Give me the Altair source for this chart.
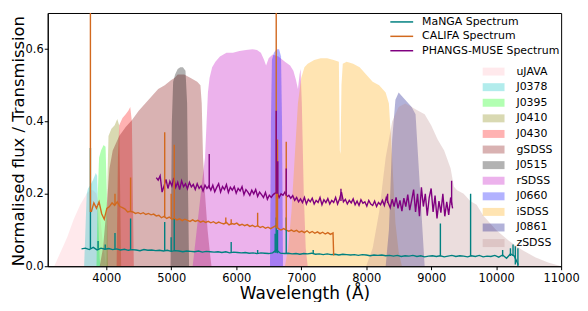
import altair as alt
import pandas as pd

FONT = "DejaVu Sans"

# ---------------- filter transmission curves ----------------
filter_names = ["uJAVA", "J0378", "J0395", "J0410", "J0430", "gSDSS",
                "J0515", "rSDSS", "J0660", "iSDSS", "J0861", "zSDSS"]
filter_colors = ["#ffb6c1", "#00bfbf", "#00ff00", "#808000", "#ff0000", "#800000",
                 "#000000", "#bf00bf", "#0000ff", "#ffa500", "#000080", "#bc8f8f"]

ujava_w = [3200, 3250, 3300, 3400, 3500, 3550, 3600, 3650, 3700, 3750, 3800, 3850, 3900, 3950, 4000]
ujava_t = [0.0, 0.02, 0.04, 0.08, 0.13, 0.15, 0.17, 0.185, 0.2, 0.21, 0.21, 0.2, 0.15, 0.06, 0.0]

j0378_w = [3660, 3680, 3700, 3720, 3760, 3800, 3840, 3860, 3880, 3900, 3910]
j0378_t = [0.0, 0.1, 0.2, 0.215, 0.225, 0.24, 0.258, 0.25, 0.12, 0.02, 0.0]

j0395_w = [3850, 3870, 3890, 3920, 3960, 3990, 4010, 4025]
j0395_t = [0.0, 0.2, 0.3, 0.32, 0.335, 0.33, 0.2, 0.0]

j0410_w = [4005, 4020, 4035, 4080, 4130, 4170, 4200, 4215, 4230]
j0410_t = [0.0, 0.25, 0.36, 0.38, 0.39, 0.407, 0.39, 0.2, 0.0]

j0430_w = [4160, 4180, 4200, 4250, 4300, 4340, 4370, 4395, 4410, 4425]
j0430_t = [0.0, 0.3, 0.39, 0.41, 0.42, 0.43, 0.44, 0.4, 0.2, 0.0]

gsdss_w = [3900, 3950, 4000, 4050, 4100, 4200, 4300, 4400, 4500, 4600, 4700, 4800, 4900,
           5000, 5050, 5100, 5200, 5300, 5400, 5450, 5470, 5490, 5520, 5560, 5600, 5620]
gsdss_t = [0.0, 0.05, 0.15, 0.27, 0.32, 0.36, 0.385, 0.405, 0.43, 0.45, 0.47, 0.49, 0.5,
           0.515, 0.52, 0.53, 0.53, 0.52, 0.51, 0.5, 0.45, 0.3, 0.2, 0.1, 0.03, 0.0]

j0515_w = [4990, 5010, 5030, 5060, 5100, 5140, 5180, 5220, 5245, 5260, 5275]
j0515_t = [0.0, 0.4, 0.51, 0.53, 0.545, 0.55, 0.55, 0.54, 0.45, 0.2, 0.0]

rsdss_w = [5330, 5380, 5430, 5480, 5520, 5545, 5565, 5590, 5630, 5680, 5750, 5850, 5950,
           6050, 6150, 6250, 6320, 6380, 6430, 6460, 6500, 6560, 6650, 6750, 6830, 6880,
           6920, 6950, 6975, 6990, 7010, 7040, 7070, 7100]
rsdss_t = [0.0, 0.08, 0.16, 0.24, 0.3, 0.4, 0.48, 0.52, 0.55, 0.565, 0.58, 0.59, 0.59,
           0.595, 0.598, 0.6, 0.598, 0.59, 0.57, 0.555, 0.575, 0.585, 0.58, 0.565, 0.555, 0.54,
           0.515, 0.49, 0.53, 0.545, 0.45, 0.2, 0.05, 0.0]

j0660_w = [6520, 6535, 6550, 6580, 6620, 6660, 6690, 6705, 6720]
j0660_t = [0.0, 0.4, 0.57, 0.59, 0.6, 0.6, 0.58, 0.4, 0.0]

isdss_w = [6750, 6800, 6850, 6900, 6950, 7000, 7050, 7100, 7200, 7300, 7400, 7500, 7580,
           7595, 7605, 7620, 7640, 7700, 7800, 7900, 8000, 8100, 8200, 8300, 8350, 8400,
           8450, 8500, 8550]
isdss_t = [0.0, 0.05, 0.15, 0.3, 0.45, 0.52, 0.55, 0.56, 0.57, 0.575, 0.575, 0.57, 0.565,
           0.32, 0.31, 0.5, 0.56, 0.565, 0.56, 0.55, 0.53, 0.51, 0.5, 0.48, 0.45, 0.3,
           0.12, 0.04, 0.0]

j0861_w = [8300, 8350, 8400, 8450, 8500, 8600, 8700, 8760, 8800, 8850, 8900]
j0861_t = [0.0, 0.1, 0.35, 0.46, 0.48, 0.46, 0.44, 0.42, 0.3, 0.15, 0.0]

zsdss_w = [8000, 8100, 8200, 8300, 8400, 8500, 8600, 8700, 8800, 8900, 9000, 9100, 9200,
           9300, 9350, 9400, 9500, 9600, 9700, 9800, 9900, 10000, 10200, 10400, 10600,
           10800, 11000]
zsdss_t = [0.0, 0.05, 0.15, 0.3, 0.4, 0.44, 0.45, 0.44, 0.43, 0.42, 0.39, 0.35, 0.32,
           0.27, 0.22, 0.21, 0.2, 0.18, 0.17, 0.14, 0.12, 0.1, 0.07, 0.045, 0.025, 0.01, 0.0]

filter_curves = [(ujava_w, ujava_t), (j0378_w, j0378_t), (j0395_w, j0395_t),
                 (j0410_w, j0410_t), (j0430_w, j0430_t), (gsdss_w, gsdss_t),
                 (j0515_w, j0515_t), (rsdss_w, rsdss_t), (j0660_w, j0660_t),
                 (isdss_w, isdss_t), (j0861_w, j0861_t), (zsdss_w, zsdss_t)]

# ---------------- spectra ----------------
spec_names = ["MaNGA Spectrum", "CALIFA Spectrum", "PHANGS-MUSE Spectrum"]
spec_colors = ["#008080", "#d2691e", "#800080"]

manga_w = list(range(3620, 10341, 60))
manga_f = [0.048, 0.05, 0.046, 0.052, 0.045, 0.05, 0.047,
           0.049, 0.046, 0.048, 0.045, 0.047, 0.044, 0.046,
           0.045, 0.043, 0.046, 0.044, 0.045, 0.043, 0.044,
           0.042, 0.044, 0.041, 0.043, 0.042, 0.04, 0.042,
           0.041, 0.04, 0.042, 0.039, 0.041, 0.04, 0.039,
           0.04, 0.038, 0.04, 0.037, 0.039, 0.038, 0.037,
           0.038, 0.036, 0.037, 0.035, 0.037, 0.036, 0.035,
           0.037, 0.045, 0.036, 0.035, 0.036, 0.034, 0.035,
           0.033, 0.035, 0.034, 0.036, 0.033, 0.034, 0.032,
           0.034, 0.032, 0.033, 0.031, 0.033, 0.032, 0.031,
           0.032, 0.03, 0.032, 0.031, 0.029, 0.031, 0.03,
           0.031, 0.029, 0.03, 0.028, 0.03, 0.027, 0.029,
           0.028, 0.03, 0.027, 0.029, 0.026, 0.028, 0.029,
           0.027, 0.029, 0.026, 0.028, 0.03, 0.027, 0.029,
           0.028, 0.026, 0.029, 0.027, 0.03, 0.026, 0.028,
           0.027, 0.03, 0.025, 0.031, 0.022, 0.034, 0.028,
           0.004]

califa_w = list(range(3770, 7491, 40)) + [7500]
califa_f = [0.15, 0.175, 0.16, 0.178, 0.145, 0.13, 0.16, 0.165, 0.175, 0.168,
            0.178, 0.165, 0.162, 0.158, 0.15, 0.152, 0.15, 0.146, 0.148, 0.145,
            0.148, 0.143, 0.146, 0.142, 0.144, 0.139, 0.141, 0.134, 0.138, 0.132,
            0.136, 0.13, 0.132, 0.128, 0.131, 0.126, 0.13, 0.127, 0.124, 0.128,
            0.124, 0.127, 0.122, 0.125, 0.121, 0.124, 0.12, 0.123, 0.118, 0.122,
            0.119, 0.117, 0.121, 0.114, 0.118, 0.116, 0.119, 0.113, 0.116, 0.112,
            0.115, 0.11, 0.113, 0.109, 0.112, 0.107, 0.11, 0.105, 0.108, 0.104,
            0.108, 0.112, 0.104, 0.1, 0.104, 0.1, 0.097, 0.1, 0.096, 0.099,
            0.094, 0.097, 0.093, 0.098, 0.092, 0.096, 0.091, 0.095, 0.09, 0.094,
            0.089, 0.093, 0.088, 0.092, 0.03]

phangs_w = list(range(4770, 9331, 30))
phangs_f = [0.245, 0.238, 0.25, 0.205, 0.222, 0.24, 0.215, 0.235, 0.222, 0.244,
            0.218, 0.232, 0.212, 0.236, 0.22, 0.228, 0.214, 0.232, 0.219, 0.226,
            0.212, 0.228, 0.215, 0.222, 0.208, 0.224, 0.215, 0.222, 0.21, 0.224,
            0.206, 0.218, 0.228, 0.205, 0.22, 0.212, 0.226, 0.204, 0.218, 0.21,
            0.22, 0.202, 0.215, 0.208, 0.22, 0.198, 0.212, 0.205, 0.196, 0.21,
            0.2, 0.212, 0.193, 0.205, 0.198, 0.19, 0.204, 0.185, 0.196, 0.19,
            0.198, 0.202, 0.205, 0.19, 0.2, 0.196, 0.205, 0.192, 0.196, 0.188,
            0.195, 0.182, 0.19, 0.178, 0.186, 0.176, 0.19, 0.172, 0.185, 0.178,
            0.188, 0.172, 0.182, 0.176, 0.19, 0.17, 0.184, 0.176, 0.187, 0.172,
            0.182, 0.176, 0.19, 0.172, 0.186, 0.205, 0.178, 0.185, 0.172, 0.182,
            0.175, 0.186, 0.17, 0.18, 0.168, 0.184, 0.174, 0.178, 0.166, 0.182,
            0.172, 0.168, 0.18, 0.165, 0.176, 0.17, 0.182, 0.168, 0.19, 0.175,
            0.162, 0.185, 0.165, 0.19, 0.16, 0.182, 0.152, 0.188, 0.165, 0.198,
            0.155, 0.182, 0.212, 0.15, 0.2, 0.138, 0.218, 0.165, 0.2, 0.14,
            0.19, 0.215, 0.15, 0.195, 0.132, 0.18, 0.148, 0.2, 0.138, 0.178,
            0.142, 0.19, 0.16]

# narrow emission / sky lines: wavelength, continuum level, peak
manga_line_w = [3757, 3875, 3985, 4135, 4375, 4900, 4999, 5047, 5923, 6330, 6600, 6616,
                6636, 6770, 7185, 9142, 9607, 10100, 10220, 10260, 10295, 10335]
manga_line_b = [0.048, 0.048, 0.047, 0.046, 0.045, 0.042, 0.042, 0.042, 0.038, 0.036, 0.037, 0.037,
                0.036, 0.035, 0.034, 0.028, 0.028, 0.027, 0.028, 0.028, 0.005, 0.0]
manga_line_p = [0.327, 0.07, 0.06, 0.092, 0.132, 0.122, 0.08, 0.132, 0.067, 0.045, 0.09, 0.135,
                0.1, 0.135, 0.045, 0.118, 0.2, 0.045, 0.05, 0.06, 0.055, 0.05]

califa_line_w = [3757, 4135, 4375, 4900, 4999, 5047, 5840, 5923, 6330, 6616, 6636, 6770]
califa_line_b = [0.15, 0.17, 0.152, 0.135, 0.132, 0.13, 0.118, 0.115, 0.11, 0.105, 0.105, 0.1]
califa_line_p = [1.0, 0.2, 0.245, 0.37, 0.2, 0.336, 0.135, 0.13, 0.148, 1.0, 0.35, 0.344]

phangs_line_w = [5585, 6616, 6640, 6770, 7612, 8330, 9315]
phangs_line_b = [0.215, 0.2, 0.2, 0.195, 0.18, 0.175, 0.17]
phangs_line_p = [0.31, 0.43, 0.29, 0.27, 0.214, 0.2, 0.236]

# ---------------- tables ----------------
filt_rows = []
for name, (w, t) in zip(filter_names, filter_curves):
    for wi, ti in zip(w, t):
        filt_rows.append({"filter": name, "wave": wi, "trans": ti})
filt_df = pd.DataFrame(filt_rows)

spec_rows = []
for name, w, f in zip(spec_names, [manga_w, califa_w, phangs_w], [manga_f, califa_f, phangs_f]):
    assert len(w) == len(f), (name, len(w), len(f))
    for wi, fi in zip(w, f):
        spec_rows.append({"spec": name, "wave": wi, "flux": fi})
spec_df = pd.DataFrame(spec_rows)

line_rows = []
for name, w, b, p in zip(spec_names,
                         [manga_line_w, califa_line_w, phangs_line_w],
                         [manga_line_b, califa_line_b, phangs_line_b],
                         [manga_line_p, califa_line_p, phangs_line_p]):
    for wi, bi, pi in zip(w, b, p):
        line_rows.append({"spec": name, "wave": wi, "base": bi, "peak": pi})
line_df = pd.DataFrame(line_rows)

# ---------------- scales / encodings ----------------
W, H = 517, 255
xscale = alt.Scale(domain=[3100, 11000], nice=False, zero=False)
yscale = alt.Scale(domain=[0, 0.7], nice=False)

x_axis = alt.Axis(values=[4000, 5000, 6000, 7000, 8000, 9000, 10000, 11000], format="d",
                  title="Wavelength (Å)", titleFontSize=17, titleFontWeight="normal",
                  titleBaseline="alphabetic", titleY=33,
                  labelFontSize=11.5, labelPadding=2.5, labelOverlap=False, labelFlush=False,
                  tickSize=3.5, grid=False)
y_axis = alt.Axis(values=[0, 0.1, 0.2, 0.3, 0.4, 0.5, 0.6, 0.7], format=".1f",
                  title="Normalised flux / Transmission", titleFontSize=16.5,
                  titleFontWeight="normal", titleAngle=270, titleAlign="center",
                  titleBaseline="middle", titleX=-29.7, titleY=H / 2 + 1,
                  labelFontSize=11.5, labelPadding=1, tickSize=3.5, grid=False)

fill_scale = alt.Scale(domain=filter_names, range=filter_colors)
fill_legend = alt.Legend(title=None, orient="none", legendX=443.5, legendY=53.5,
                         symbolType="M-2,-0.73H2V0.73H-2Z", symbolSize=121,
                         symbolOpacity=0.3, symbolStrokeWidth=0, labelOffset=17.5,
                         rowPadding=3.7, labelFontSize=11, labelFont=FONT,
                         labelColor="black", labelLimit=200)
stroke_scale = alt.Scale(domain=spec_names, range=spec_colors)
stroke_legend = alt.Legend(title=None, orient="none", legendX=350.5, legendY=3,
                           symbolType="M-2.3,0H2.3", symbolSize=100, symbolStrokeWidth=1.5,
                           labelOffset=14.5, rowPadding=3.5, labelFontSize=11, labelFont=FONT,
                           labelColor="black", labelLimit=300)

layers = []
for i, name in enumerate(filter_names):
    layers.append(
        alt.Chart(filt_df).transform_filter(alt.datum.filter == name)
        .mark_area(fillOpacity=0.3, strokeWidth=0, clip=True)
        .encode(
            x=alt.X("wave:Q", scale=xscale, axis=x_axis),
            y=alt.Y("trans:Q", scale=yscale, axis=y_axis, stack=None),
            fill=alt.Fill("filter:N", scale=fill_scale, legend=fill_legend),
        )
    )

lines = alt.Chart(spec_df).mark_line(strokeWidth=1.4, clip=True).encode(
    x=alt.X("wave:Q", scale=xscale),
    y=alt.Y("flux:Q", scale=yscale),
    stroke=alt.Stroke("spec:N", scale=stroke_scale, legend=stroke_legend),
    detail="spec:N",
)
rules = alt.Chart(line_df).mark_rule(strokeWidth=1.4, clip=True).encode(
    x=alt.X("wave:Q", scale=xscale),
    y=alt.Y("base:Q", scale=yscale),
    y2="peak:Q",
    stroke=alt.Stroke("spec:N", scale=stroke_scale, legend=stroke_legend),
)
layers += [lines, rules]

chart = (
    alt.layer(*layers)
    .properties(width=W, height=H,
                padding={"left": 40, "top": 4, "right": 19, "bottom": 35},
                autosize=alt.AutoSizeParams(type="none"))
    .configure_view(stroke="black", strokeWidth=1)
    .configure_axis(domainColor="black", tickColor="black", labelColor="black",
                    titleColor="black", labelFont=FONT, titleFont=FONT, domainWidth=1,
                    tickWidth=1)
    .configure_legend(labelFont=FONT)
)

chart.save("out.html", embed_options={"renderer": "svg", "actions": False})
